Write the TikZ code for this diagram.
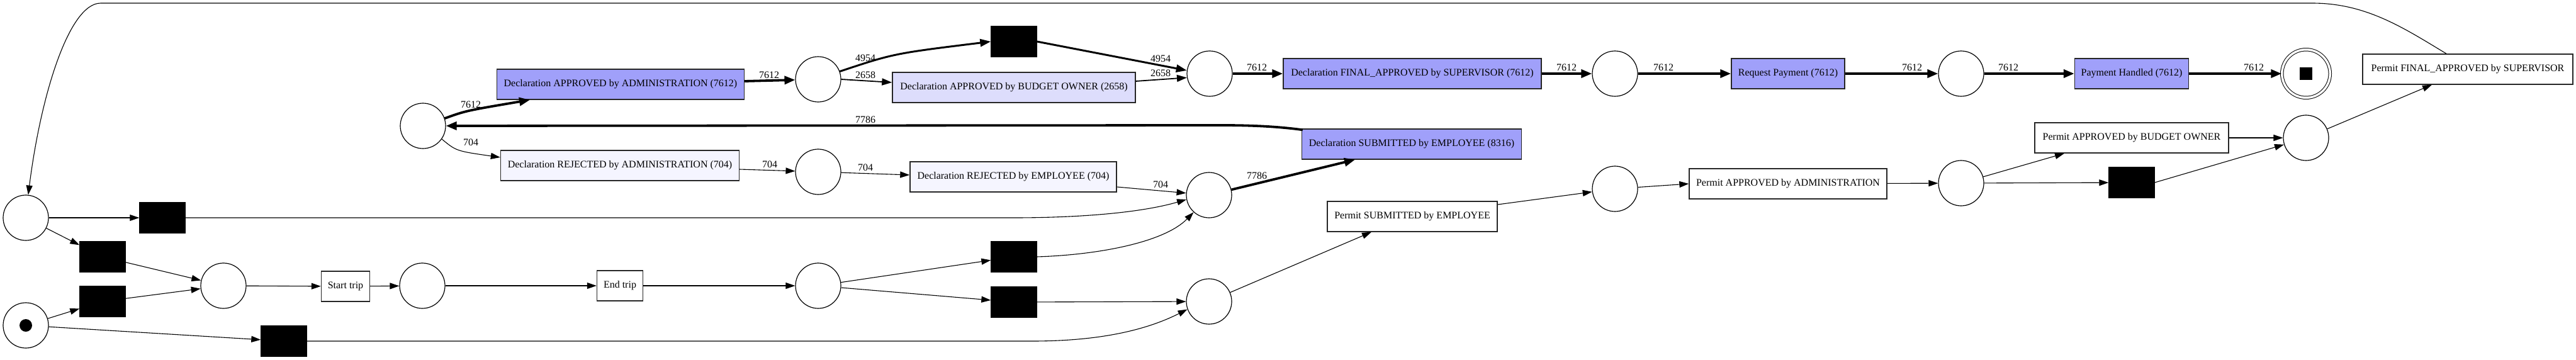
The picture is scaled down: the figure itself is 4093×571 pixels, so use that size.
\documentclass[tikz,border=0pt]{standalone}
\usepackage{fontspec}
\setmainfont{Liberation Serif}
\usetikzlibrary{arrows.meta}
\definecolor{fdark}{RGB}{160,160,250}
\definecolor{fmid}{RGB}{221,221,252}
\definecolor{flight}{RGB}{245,245,255}
\begin{document}
\begin{tikzpicture}[x=1pt,y=-1pt,
 place/.style={circle,draw,line width=1.2pt,minimum size=72pt,inner sep=0pt},
 finplace/.style={circle,draw,line width=1pt,double,double distance=3.5pt,minimum size=76.5pt,inner sep=0pt},
 silent/.style={rectangle,fill=black,draw=black,minimum width=73pt,minimum height=49pt,inner sep=0pt},
 trans/.style={rectangle,draw=black!85,line width=1.4pt,minimum height=48pt,inner sep=0pt,font=\fontsize{16}{19}\selectfont},
 lbl/.style={font=\fontsize{16}{19}\selectfont,inner sep=0pt},
 arc/.style={line width=1.1pt,-{Triangle[length=15pt,width=10pt]}},
 arcA/.style={line width=1.8pt,-{Triangle[length=16pt,width=11pt]}},
 arcB/.style={line width=3pt,-{Triangle[length=17pt,width=12pt]}},
 arcC/.style={line width=3.8pt,-{Triangle[length=17pt,width=13pt]}},
]
\useasboundingbox (0,0) rectangle (4093,571);
% places
\node[place] (pL) at (41,346) {};
\node[place] (pS) at (41,517) {};
\node[circle,fill=black,minimum size=20pt,inner sep=0pt] (tok) at (pS) {};
\node[place] (pM) at (355,454) {};
\node[place] (pAS) at (671,454) {};
\node[place] (pE) at (1300,454) {};
\node[place] (pJ1) at (1921,310) {};
\node[place] (pJ2) at (1921,479) {};
\node[place] (pSub) at (672,200) {};
\node[place] (pA1) at (1300,126) {};
\node[place] (pR1) at (1300,273) {};
\node[place] (pA2) at (1922,117) {};
\node[place] (pF1) at (2566,117) {};
\node[place] (pF2) at (3116,117) {};
\node[finplace] (fin) at (3664,117) {};
\node[rectangle,fill=black,minimum size=20pt,inner sep=0pt] (finTok) at (fin) {};
\node[place] (pPS) at (2566,300) {};
\node[place] (pPA) at (3116,291) {};
\node[place] (pPB) at (3664,219) {};
% silent transitions
\node[silent] (t1) at (258,346) {};
\node[silent] (t2) at (163,408) {};
\node[silent] (t3) at (163,479) {};
\node[silent] (t4) at (451,542) {};
\node[silent] (t5) at (1611,408) {};
\node[silent] (t6) at (1611,480) {};
\node[silent] (t8) at (1611,66) {};
\node[silent] (t7) at (3387,290) {};
% labelled transitions
\node[trans,fill=white,minimum width=77pt] (startT) at (549,455) {Start trip};
\node[trans,fill=white,minimum width=73pt] (endT) at (985,454) {End trip};
\node[trans,fill=fdark,minimum width=393pt] (dAA) at (986,134) {Declaration APPROVED by ADMINISTRATION (7612)};
\node[trans,fill=flight,minimum width=379pt] (dRA) at (985,263) {Declaration REJECTED by ADMINISTRATION (704)};
\node[trans,fill=flight,minimum width=328pt] (dRE) at (1610,281) {Declaration REJECTED by EMPLOYEE (704)};
\node[trans,fill=fmid,minimum width=386pt] (dBO) at (1611,139) {Declaration APPROVED by BUDGET OWNER (2658)};
\node[trans,fill=fdark,minimum width=410pt] (dFA) at (2244,117) {Declaration FINAL\_APPROVED by SUPERVISOR (7612)};
\node[trans,fill=fdark,minimum width=349pt] (dSub) at (2243,229) {Declaration SUBMITTED by EMPLOYEE (8316)};
\node[trans,fill=fdark,minimum width=180pt] (rP) at (2841,117) {Request Payment (7612)};
\node[trans,fill=fdark,minimum width=181pt] (pH) at (3387,117) {Payment Handled (7612)};
\node[trans,fill=white,minimum width=270pt] (pSubm) at (2244,344) {Permit SUBMITTED by EMPLOYEE};
\node[trans,fill=white,minimum width=314pt] (pAA) at (2841,292) {Permit APPROVED by ADMINISTRATION};
\node[trans,fill=white,minimum width=308pt] (pBO) at (3387,219) {Permit APPROVED by BUDGET OWNER};
\node[trans,fill=white,minimum width=334pt] (pFA) at (3921,110) {Permit FINAL\_APPROVED by SUPERVISOR};
% lower-left arcs
\draw[arc] (pL) -- (t1);
\draw[arc] (pL) -- (t2);
\draw[arc] (pS) -- (t3);
\draw[arc] (pS) -- (t4);
\draw[arc] (t2) -- (pM);
\draw[arc] (t3) -- (pM);
\draw[arc] (pM) -- (startT);
\draw[arc] (startT) -- (pAS);
\draw[arc] (pAS) -- (endT);
\draw[arc] (endT) -- (pE);
\draw[arc] (pE) -- (t5);
\draw[arc] (pE) -- (t6);
\draw[arc] (t1.east) -- (1610,346) .. controls (1730,346) and (1820,336) .. (pJ1.191);
\draw[arc] (t4.east) -- (1640,542) .. controls (1760,542) and (1830,520) .. (pJ2.200);
\draw[arc] (t5.east) .. controls (1745,405) and (1850,385) .. (pJ1.228);
\draw[arc] (t6) -- (pJ2);
% permit arcs
\draw[arc] (pJ2) -- ([xshift=-65pt]pSubm.south);
\draw[arc] ([yshift=19pt]pSubm.east) -- (pPS);
\draw[arc] (pPS) -- (pAA.west);
\draw[arc] (pAA) -- (pPA);
\draw[arc] (pPA) -- ([xshift=-107pt]pBO.south);
\draw[arc] (pPA) -- (t7);
\draw[arc] (pBO) -- (pPB);
\draw[arc] (t7.east) .. controls (3520,262) .. (pPB.197);
\draw[arc] (pPB) -- ([xshift=-57pt]pFA.south);
\draw[arc] ([xshift=-34pt]pFA.north) .. controls (3820,45) and (3760,5) .. (3674,5) -- (160,5) .. controls (110,5) and (65,150) .. (pL.84);
% declaration arcs
\draw[arcC] (pSub.19) .. controls (740,176) .. ([xshift=-144pt]dAA.south);
\draw[arc] (pSub.-35) .. controls (725,240) .. ([yshift=13pt]dRA.west);
\draw[arcC] ([yshift=5pt]dAA.east) -- (pA1);
\draw[arcB] (pA1.20) .. controls (1420,85) .. (t8.west);
\draw[arcA] (pA1.east) -- ([yshift=8pt]dBO.west);
\draw[arcB] (t8.east) -- (pA2.172);
\draw[arcA] ([yshift=10pt]dBO.east) -- (pA2.190);
\draw[arcC] (pA2) -- (dFA);
\draw[arcC] (dFA) -- (pF1);
\draw[arcC] (pF1) -- (rP);
\draw[arcC] (rP) -- (pF2);
\draw[arcC] (pF2) -- (pH);
\draw[arcC] (pH) -- (fin);
\draw[arcC] ([xshift=2pt,yshift=-2pt]dSub.north west) .. controls (2030,201) and (1990,199) .. (1940,199) -- (pSub);
\draw[arc] ([yshift=-6pt]dRA.east) -- (pR1);
\draw[arc] (pR1) -- ([yshift=3pt]dRE.west);
\draw[arc] ([yshift=-16pt]dRE.east) -- (pJ1);
\draw[arcC] (pJ1) -- ([xshift=-90pt]dSub.south);
% arc labels
\node[lbl] (l1) at (748,166) {7612};
\node[lbl] (l2) at (748,226) {704};
\node[lbl] (l3) at (1222,119) {7612};
\node[lbl] (l4) at (1375,92) {4954};
\node[lbl] (l5) at (1375,119) {2658};
\node[lbl] (l6) at (1375,190) {7786};
\node[lbl] (l7) at (1223,261) {704};
\node[lbl] (l8) at (1375,266) {704};
\node[lbl] (l9) at (1844,93) {4954};
\node[lbl] (l10) at (1844,116) {2658};
\node[lbl] (l11) at (1844,293) {704};
\node[lbl] (l12) at (1997,107) {7612};
\node[lbl] (l13) at (1997,279) {7786};
\node[lbl] (l14) at (2489,107) {7612};
\node[lbl] (l15) at (2643,107) {7612};
\node[lbl] (l16) at (3038,107) {7612};
\node[lbl] (l17) at (3191,107) {7612};
\node[lbl] (l18) at (3581,107) {7612};
\end{tikzpicture}
\end{document}
